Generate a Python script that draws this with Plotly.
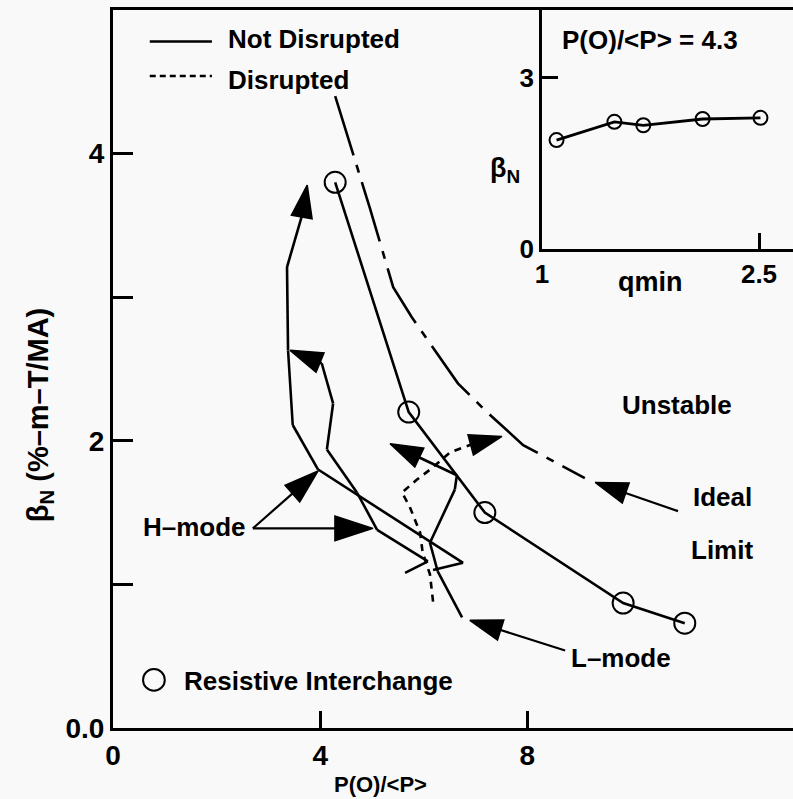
import plotly.graph_objects as go

# ---------------- data ----------------
# Ideal limit (dash-dot)
ideal_x = [4.29, 4.75, 4.96, 5.41, 5.77, 6.66, 7.22, 7.92, 8.44, 9.11]
ideal_y = [4.40, 3.87, 3.62, 3.07, 2.86, 2.40, 2.20, 1.97, 1.87, 1.74]

# Resistive interchange points (not disrupted, solid)
ri_x = [4.29, 5.71, 7.18, 9.85, 11.04]
ri_y = [3.80, 2.20, 1.50, 0.87, 0.73]

# H-mode trajectory A (ends with arrow at top)
hA_x = [6.18, 6.76, 3.96, 3.47, 3.38, 3.36, 3.65, 3.75]
hA_y = [1.10, 1.15, 1.80, 2.11, 2.63, 3.21, 3.57, 3.78]

# H-mode trajectory B
hB_x = [5.64, 6.08, 5.10, 4.96, 4.71, 4.13, 4.25, 4.03, 3.42]
hB_y = [1.08, 1.16, 1.38, 1.47, 1.64, 1.94, 2.26, 2.54, 2.63]

# L-mode trajectory
l_x = [6.74, 6.27, 6.12, 6.60, 6.64, 5.35]
l_y = [0.77, 1.09, 1.29, 1.66, 1.76, 1.98]

# Disrupted trajectory (dashed)
d_x = [6.18, 6.12, 5.98, 5.93, 5.73, 5.58, 5.87, 6.16, 6.51, 6.89, 7.51]
d_y = [0.88, 1.07, 1.22, 1.36, 1.54, 1.64, 1.73, 1.81, 1.92, 1.97, 2.03]

# Label pointer arrows (start, tip)
hptr1_x, hptr1_y = [2.70, 3.96], [1.39, 1.79]
hptr2_x, hptr2_y = [2.70, 5.02], [1.39, 1.39]
lptr_x, lptr_y = [8.73, 6.89], [0.54, 0.75]
iptr_x, iptr_y = [10.91, 9.31], [1.51, 1.71]

# Inset: beta_N vs q_min at P(0)/<P> = 4.3
inset_q = [1.10, 1.50, 1.70, 2.11, 2.51]
inset_b = [1.91, 2.23, 2.17, 2.28, 2.30]

main_xticks = [0, 4, 8]
main_xlabels = ["0", "4", "8"]
main_yticks = [0, 2, 4]
main_ylabels = ["0.0", "2", "4"]
inset_xticks = [1, 2.5]
inset_xlabels = ["1", "2.5"]
inset_yticks = [0, 3]
inset_ylabels = ["0", "3"]

FONT = "Liberation Sans, Arial, sans-serif"
BLACK = "black"
LBL = 26  # label font size

fig = go.Figure()


def traj(x, y, dash="solid", head=34, width=2.6):
    n = len(x)
    fig.add_trace(go.Scatter(
        x=x, y=y, mode="lines+markers",
        line=dict(color=BLACK, width=width, dash=dash),
        marker=dict(symbol="arrow", size=[0] * (n - 1) + [head],
                    angleref="previous", color=BLACK, opacity=1,
                    line=dict(width=1.5, color=BLACK)),
        showlegend=False, hoverinfo="skip"))


# ideal limit
fig.add_trace(go.Scatter(
    x=ideal_x, y=ideal_y, mode="lines",
    line=dict(color=BLACK, width=2.6, dash="62px,10px,8px,10px"),
    showlegend=False, hoverinfo="skip"))

# not disrupted with resistive interchange circles
fig.add_trace(go.Scatter(
    x=ri_x, y=ri_y, mode="lines+markers",
    line=dict(color=BLACK, width=2.6),
    marker=dict(symbol="circle-open", size=21, color=BLACK,
                line=dict(width=2, color=BLACK)),
    showlegend=False, hoverinfo="skip"))

traj(hA_x, hA_y)
traj(hB_x, hB_y)
traj(l_x, l_y)
traj(d_x, d_y, dash="7px,6px")
traj(hptr1_x, hptr1_y, head=36, width=2.2)
traj(hptr2_x, hptr2_y, head=40, width=2.2)
traj(lptr_x, lptr_y, head=34, width=2.2)
traj(iptr_x, iptr_y, head=34, width=2.2)

# inset
fig.add_trace(go.Scatter(
    x=inset_q, y=inset_b, mode="lines+markers", xaxis="x2", yaxis="y2",
    line=dict(color=BLACK, width=2.8),
    marker=dict(symbol="circle-open", size=14, color=BLACK,
                line=dict(width=2, color=BLACK)),
    showlegend=False, hoverinfo="skip"))

tf = dict(family=FONT, size=28, color=BLACK, weight="bold")
tf2 = dict(family=FONT, size=26, color=BLACK, weight="bold")

fig.update_layout(
    width=793, height=799,
    margin=dict(l=113, r=0, t=10, b=71),
    paper_bgcolor="#f9f9f9", plot_bgcolor="#f9f9f9",
    showlegend=False,
    xaxis=dict(range=[0, 13.13], tickvals=main_xticks, ticktext=main_xlabels,
               ticks="inside", ticklen=17, tickwidth=2.5, tickcolor=BLACK,
               showline=True, linewidth=3, linecolor=BLACK, mirror=True,
               showgrid=False, zeroline=False, tickfont=tf, domain=[0, 1]),
    yaxis=dict(range=[0, 5.0], tickvals=main_yticks, ticktext=main_ylabels,
               ticks="inside", ticklen=20, tickwidth=2.5, tickcolor=BLACK,
               minor=dict(dtick=1, tick0=0, ticks="inside", ticklen=20,
                          tickwidth=2.5, tickcolor=BLACK, showgrid=False),
               showline=True, linewidth=3, linecolor=BLACK,
               showgrid=False, zeroline=False, tickfont=tf, domain=[0, 1]),
    xaxis2=dict(domain=[0.631, 1], anchor="y2", range=[1, 2.735],
                tickvals=inset_xticks, ticktext=inset_xlabels,
                ticks="inside", ticklen=16, tickwidth=2.5, tickcolor=BLACK,
                showline=True, linewidth=3, linecolor=BLACK,
                showgrid=False, zeroline=False, tickfont=tf2),
    yaxis2=dict(domain=[0.667, 1], anchor="x2", range=[0, 4.19],
                tickvals=inset_yticks, ticktext=inset_ylabels,
                ticks="inside", ticklen=16, tickwidth=2.5, tickcolor=BLACK,
                showline=True, linewidth=3, linecolor=BLACK,
                showgrid=False, zeroline=False, tickfont=tf2),
)


def txt(text, x, y, size=LBL, xanchor="center", xref="x", yref="y", angle=0):
    fig.add_annotation(text=text, x=x, y=y, xref=xref, yref=yref,
                       xanchor=xanchor, yanchor="middle", showarrow=False,
                       textangle=angle,
                       font=dict(family=FONT, size=size, color=BLACK,
                                 weight="bold"))


# legend
fig.add_shape(type="line", x0=0.71, x1=1.91, y0=4.78, y1=4.78,
              line=dict(color=BLACK, width=2.5))
fig.add_shape(type="line", x0=0.71, x1=1.91, y0=4.54, y1=4.54,
              line=dict(color=BLACK, width=2.5, dash="6px,4px"))
txt("Not Disrupted", 2.18, 4.80, xanchor="left")
txt("Disrupted", 2.18, 4.51, xanchor="left")

# other labels
txt("Unstable", 10.89, 2.25)
txt("Ideal", 11.76, 1.61)
txt("Limit", 11.76, 1.24)
txt("H\u2013mode", 1.58, 1.40)
txt("L\u2013mode", 9.81, 0.49)
fig.add_shape(type="circle", xref="x", yref="y",
              x0=0.58, x1=1.00, y0=0.26, y1=0.41,
              line=dict(color=BLACK, width=2))
txt("Resistive Interchange", 1.33, 0.33, xanchor="left")

# axis titles
txt("P(O)/&lt;P&gt;", 5.17, -0.078, size=22, yref="paper")
txt("\u03b2<sub>N</sub> (%\u2013m\u2013T/MA)", -0.107, 0.436, size=29,
    xref="paper", yref="paper", angle=-90)

# inset labels
txt("P(O)/&lt;P&gt; = 4.3", 1.124, 3.67, xanchor="left", xref="x2", yref="y2")
txt("\u03b2<sub>N</sub>", 0.576, 0.777, size=27, xref="paper", yref="paper")
txt("qmin", 0.790, 0.621, size=27, xref="paper", yref="paper")

fig.write_html("out.html")
